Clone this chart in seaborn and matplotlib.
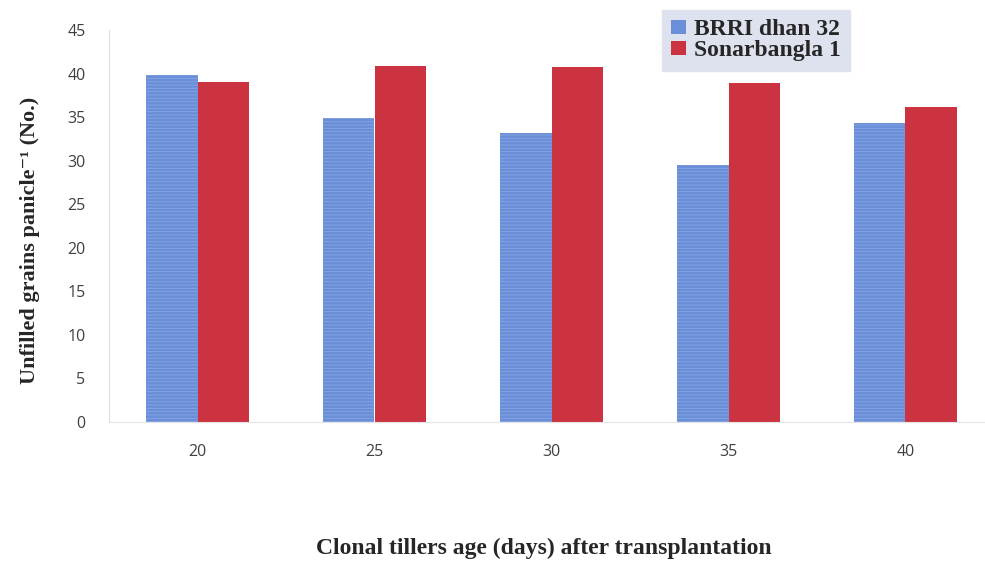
import matplotlib
matplotlib.use("Agg")
import matplotlib.pyplot as plt
import seaborn as sns
import pandas as pd
from matplotlib.patches import Patch

# Clonal tiller age (days) and unfilled grains per panicle for two varieties
ages = ["20", "25", "30", "35", "40"]
brri_dhan32 = [39.8, 34.9, 33.2, 29.5, 34.3]
sonarbangla1 = [39.0, 40.9, 40.8, 38.9, 36.2]
varieties = ["BRRI dhan 32", "Sonarbangla 1"]
yticks = [0, 5, 10, 15, 20, 25, 30, 35, 40, 45]

df = pd.DataFrame({
    "age": ages * 2,
    "value": brri_dhan32 + sonarbangla1,
    "variety": [varieties[0]] * len(ages) + [varieties[1]] * len(ages),
})

sns.set_theme(style="white")
plt.rcParams["font.family"] = ["DejaVu Sans"]
plt.rcParams["hatch.linewidth"] = 0.6

serif = ["Liberation Serif", "DejaVu Serif"]

fig = plt.figure(figsize=(9.85, 5.62), dpi=100)
ax = fig.add_axes([109 / 985, 140 / 562, 876 / 985, 392 / 562])

palette = {varieties[0]: "#6a8fd8", varieties[1]: "#cc3340"}
sns.barplot(data=df, x="age", y="value", hue="variety", order=ages,
            hue_order=varieties, palette=palette, width=0.58,
            saturation=1, ax=ax, legend=False)

# blue bars carry a faint horizontal line texture
n = len(ages)
for i, bar in enumerate(ax.patches):
    bar.set_linewidth(0)
    if i < n:
        bar.set_edgecolor("#86a5e4")
        bar.set_hatch("-----")
    else:
        bar.set_edgecolor("none")

ax.set_xlim(-0.5, -0.5 + 876 / 177)
ax.set_ylim(0, 45)
ax.set_yticks(yticks)
ax.set_yticklabels([str(t) for t in yticks], fontsize=11.5, color="#404040",
                   family="Open Sans")
ax.set_xticks(range(n))
ax.set_xticklabels(ages, fontsize=11.5, color="#404040", family="Open Sans")
ax.tick_params(axis="x", pad=16, length=0)
ax.tick_params(axis="y", pad=17, length=0)

for side in ["top", "right"]:
    ax.spines[side].set_visible(False)
ax.spines["left"].set_color("#dcdcdc")
ax.spines["bottom"].set_color("#e4e4e4")
ax.spines["left"].set_linewidth(0.8)
ax.spines["bottom"].set_linewidth(0.8)

ax.set_ylabel("")
ax.set_xlabel("")
fig.text(30 / 985, 1 - 240 / 562, "Unfilled grains panicle\u207b\u00b9 (No.)",
         rotation=90, ha="center", va="center", family=serif,
         fontweight="bold", fontsize=16)
fig.text(544 / 985, 1 - 548 / 562, "Clonal tillers age (days) after transplantation",
         ha="center", va="center", family=serif,
         fontweight="bold", fontsize=17)

handles = [Patch(facecolor=palette[v], edgecolor="none") for v in varieties]
leg = ax.legend(handles, varieties, loc="upper left",
                bbox_to_anchor=((662 - 109) / 876, 1 + 20 / 392),
                prop={"family": "Liberation Serif", "weight": "bold", "size": 17},
                frameon=True, fancybox=False, handlelength=0.6,
                handleheight=0.55, handletextpad=0.35, borderpad=0.4,
                labelspacing=0.0, borderaxespad=0)
leg.get_frame().set_facecolor("#dde2ee")
leg.get_frame().set_edgecolor("#dde2ee")
leg.get_frame().set_alpha(1)

fig.savefig("out.png", dpi=100, facecolor="white")
